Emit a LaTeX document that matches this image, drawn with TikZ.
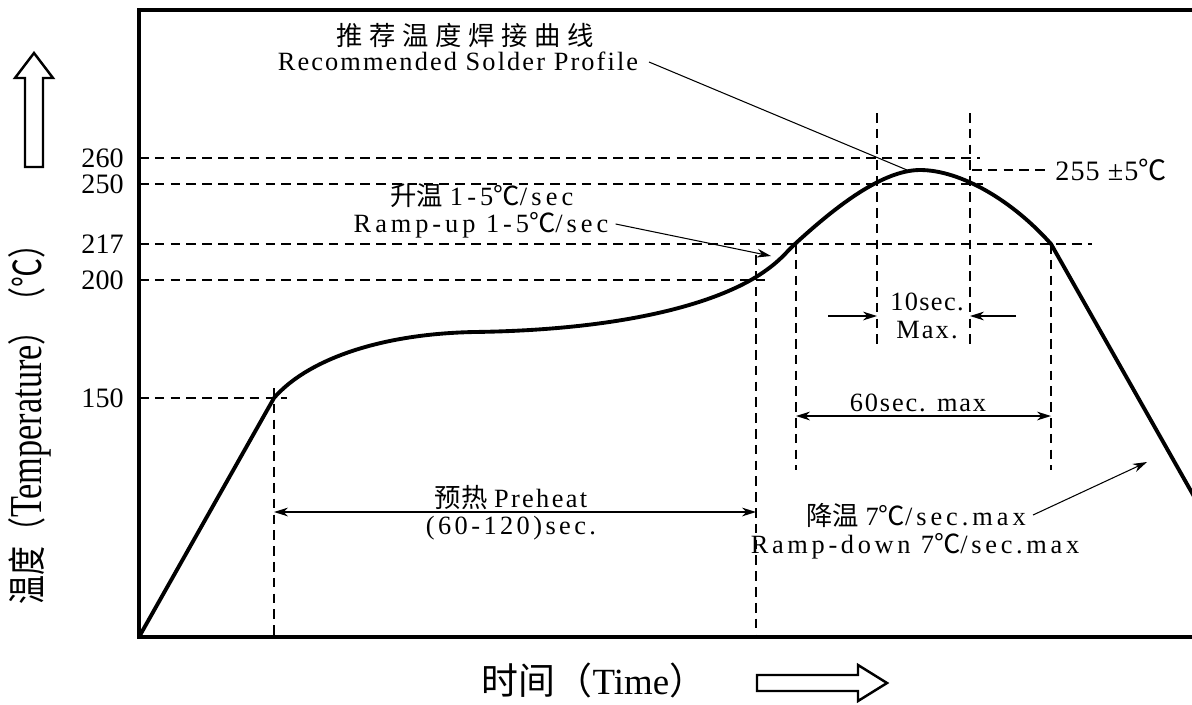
\documentclass[tikz,border=0pt]{standalone}
\usepackage{graphicx}
\usepackage{fontspec}
\setmainfont{Liberation Serif}
\newfontfamily\cjk{Noto Sans CJK SC}
\usetikzlibrary{arrows.meta, positioning}
\newcommand{\degc}{{\cjk ℃}}
\newcommand{\spread}[1]{\addfontfeature{LetterSpace=#1}}

\begin{document}
\begin{tikzpicture}[
        x=0.02cm, y=-0.02cm, >={Stealth[length=8pt,width=5pt]},
        frame/.style={line width=2.2pt},
        profile/.style={line width=2.2pt, line join=round},
        guide/.style={line width=0.75pt, dash pattern=on 5.5pt off 3.5pt},
        pointer/.style={line width=0.6pt, ->},
        span/.style={line width=0.8pt, <->},
        tick/.style={font=\fontsize{16}{16}\selectfont, anchor=east, inner sep=0pt},
        note/.style={font=\fontsize{15}{15}\selectfont, inner sep=0pt},
        block/.style={line width=1.4pt, line join=miter},
        ]
        \useasboundingbox (0,0) rectangle (1192,704);
        \clip (0,0) rectangle (1192,704);

        % frame of the chart
        \coordinate (O) at (139,637);
        \draw[frame] (1200,10) -- (139,10) -- (O) -- (1200,637);

        % temperature levels
        \foreach \y/\len/\lab in {158/980/260, 184/983/250, 244/1092/217, 280/770/200, 398/287/150} {
            \node[tick] (t\lab) at (124,\y) {\lab};
            \draw[guide] (139,\y) -- (\len,\y);
        }
        \draw[guide] (972,170) -- (1047,170);
        \node[tick, anchor=west] (peak) at (1055,170) {\spread{4}255 ±5\degc};

        % time marks
        \draw[guide] (274,388) -- (274,637);
        \draw[guide] (756,255) -- (756,637);
        \draw[guide] (796,244) -- (796,470);
        \draw[guide] (877,113) -- (877,350);
        \draw[guide] (970,113) -- (970,350);
        \draw[guide] (1051,244) -- (1051,470);

        % solder profile
        \coordinate (p150) at (274,398);
        \coordinate (soak) at (474,332);
        \coordinate (p200) at (756,277);
        \coordinate (p217) at (796,243);
        \coordinate (top) at (920,170);
        \coordinate (cool) at (1051,244);
        \draw[profile] (O) -- (p150)
            .. controls (305,362) and (375,334) .. (soak)
            .. controls (620,330) and (710,305) .. (p200)
            .. controls (780,262) and (785,253) .. (p217)
            .. controls (830,212) and (880,170) .. (top)
            .. controls (960,170) and (1012,200) .. (cool)
            -- (1200,507);

        % labels
        \node[note, anchor=base] (profcn) at (465,45) {\cjk\spread{25}推荐温度焊接曲线};
        \node[note, anchor=base] (prof) at (458,70) {\spread{8}Recommended Solder Profile};
        \coordinate (prof tip) at (907,170);
        \draw[line width=0.6pt] ([xshift=6pt]prof.east |- 0,62) -- (prof tip);

        \node[note, anchor=base] (upcn) at (482,205) {{\cjk 升温} \spread{16}1-5\degc/sec};
        \node[note, anchor=base] (up) at (481,232) {\spread{15}Ramp-up 1-5\degc/sec};
        \coordinate (up tip) at (771,256);
        \draw[pointer] ([xshift=4pt]up.east |- 0,224) -- (up tip);

        \node[note] (ten) at (927,302) {\spread{5}10sec.};
        \node[note] (tenmax) at (927,330) {\spread{8}Max.};
        \coordinate (ten l) at (828,316);
        \coordinate (ten r) at (1016,316);
        \draw[pointer, line width=0.8pt] (ten l) -- (877,316);
        \draw[pointer, line width=0.8pt] (ten r) -- (970,316);

        \node[note] (sixty) at (918,403) {\spread{7}60sec. max};
        \draw[span] (796,416) -- (1051,416);

        \node[note] (pre) at (511,498) {{\cjk 预热} \spread{9}Preheat};
        \node[note] (pretime) at (511,528) {\spread{13}(60-120)sec.};
        \draw[span] (274,512) -- (756,512);

        \node[note, anchor=base] (downcn) at (916,525) {{\cjk 降温} \spread{15}7\degc/sec.max};
        \node[note, anchor=base] (down) at (915,553) {\spread{14}Ramp-down 7\degc/sec.max};
        \coordinate (down tip) at (1147,462);
        \draw[pointer] (1033,515) -- (down tip);

        % axis titles
        \node[rotate=90, inner sep=0pt] (ylab) at (30,417)
            {\scalebox{0.75}[1]{\fontsize{26}{26}\selectfont{\cjk\fontsize{22}{22}\selectfont 温度（}Temperature{\cjk\fontsize{22}{22}\selectfont ）（℃）}}};
        \draw[block] (25,167) -- (25,78) -- (15,78) -- (34,53) -- (53,78) -- (43,78) -- (43,167) -- cycle;

        \node[inner sep=0pt] (xlab) at (594,680)
            {\fontsize{21}{21}\selectfont{\cjk 时间（}Time{\cjk ）}};
        \draw[block] (757,675) -- (858,675) -- (858,665) -- (887,683) -- (858,701) -- (858,691) -- (757,691) -- cycle;
\end{tikzpicture}
\end{document}
